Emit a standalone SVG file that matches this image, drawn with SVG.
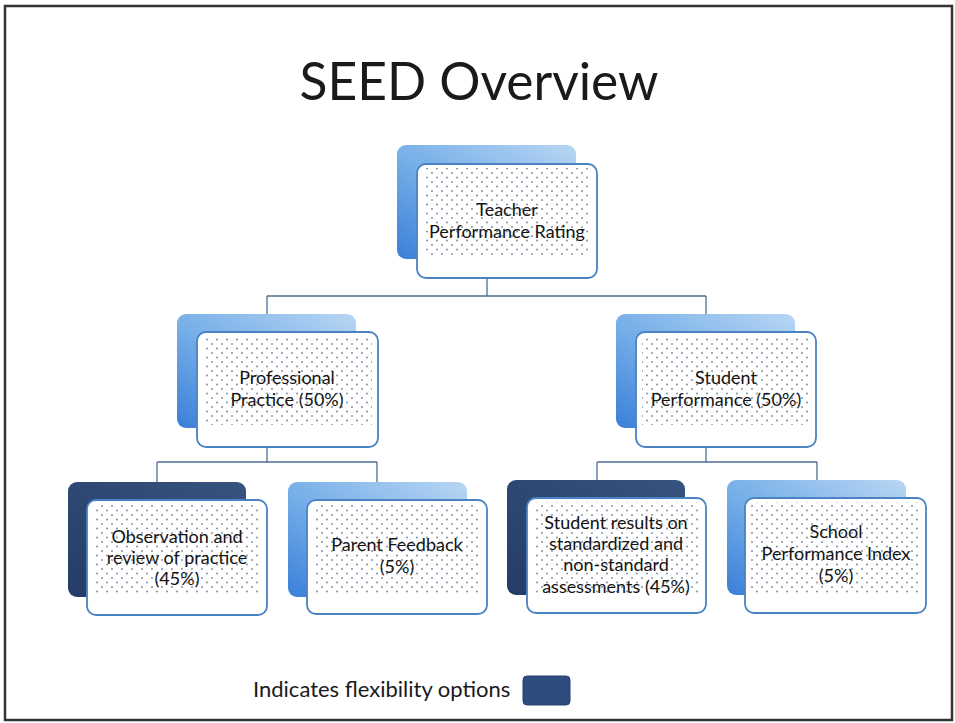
<svg xmlns="http://www.w3.org/2000/svg" width="955" height="723" viewBox="0 0 955 723">
<defs>
<linearGradient id="gBlue" x1="0" y1="1" x2="1" y2="0">
<stop offset="0" stop-color="#3a7fd8"/>
<stop offset="0.45" stop-color="#75aee8"/>
<stop offset="1" stop-color="#b8d6f3"/>
</linearGradient>
<linearGradient id="gNavy" x1="0" y1="1" x2="1" y2="0">
<stop offset="0" stop-color="#243d66"/>
<stop offset="1" stop-color="#36547f"/>
</linearGradient>
<pattern id="dots" width="10" height="9" patternUnits="userSpaceOnUse">
<circle cx="2" cy="2" r="0.95" fill="#7d8ba0"/>
<circle cx="7" cy="6.5" r="0.95" fill="#7d8ba0"/>
</pattern>
<style>
.back{fill:url(#gBlue);}
.backn{fill:url(#gNavy);}
.front{fill:#ffffff;stroke:#4a82c4;stroke-width:1.8;}
.dot{fill:url(#dots);}
.lbl{font-family:Lato,"Liberation Sans",sans-serif;font-size:18px;fill:#141414;text-anchor:middle;}
.conn{fill:none;stroke:#4f6f96;stroke-width:1.3;}
</style>
</defs>
<rect x="0" y="0" width="955" height="723" fill="#ffffff"/>
<rect x="5" y="6" width="947" height="714" fill="none" stroke="#333" stroke-width="2.5"/>
<text x="479" y="100" font-family="Lato,'Liberation Sans',sans-serif" font-size="51.5" fill="#1a1a1a" text-anchor="middle">SEED Overview</text>

<g id="connectors">
<path class="conn" d="M487 278 V296 M267 296 H706 M267 296 V332 M706 296 V332"/>
<path class="conn" d="M267 447 V462 M157 462 H377 M157 462 V500 M377 462 V500"/>
<path class="conn" d="M706 447 V462 M597 462 H817 M597 462 V498 M817 462 V498"/>
</g>

<g id="node-teacher">
<rect class="back" x="397" y="145" width="179" height="114" rx="9"/>
<rect class="front" x="417" y="164" width="180" height="114" rx="9"/>
<rect class="dot" x="423" y="168" width="168" height="88"/>
<text class="lbl" x="507" y="216">Teacher</text>
<text class="lbl" x="507" y="238">Performance Rating</text>
</g>

<g id="node-professional">
<rect class="back" x="177" y="314" width="179" height="114" rx="9"/>
<rect class="front" x="197" y="332" width="181" height="115" rx="9"/>
<rect class="dot" x="203" y="336" width="169" height="89"/>
<text class="lbl" x="287" y="384">Professional</text>
<text class="lbl" x="287" y="406">Practice (50%)</text>
</g>

<g id="node-student">
<rect class="back" x="616" y="314" width="179" height="114" rx="9"/>
<rect class="front" x="636" y="332" width="180" height="115" rx="9"/>
<rect class="dot" x="642" y="336" width="168" height="89"/>
<text class="lbl" x="726" y="384">Student</text>
<text class="lbl" x="726" y="406">Performance (50%)</text>
</g>

<g id="node-observation">
<rect class="backn" x="68" y="482" width="178" height="115" rx="9"/>
<rect class="front" x="87" y="500" width="180" height="115" rx="9"/>
<rect class="dot" x="93" y="504" width="168" height="90"/>
<text class="lbl" x="177" y="543">Observation and</text>
<text class="lbl" x="177" y="564">review of practice</text>
<text class="lbl" x="177" y="585">(45%)</text>
</g>

<g id="node-parent">
<rect class="back" x="288" y="482" width="179" height="115" rx="9"/>
<rect class="front" x="307" y="500" width="180" height="114" rx="9"/>
<rect class="dot" x="313" y="504" width="168" height="90"/>
<text class="lbl" x="397" y="551">Parent Feedback</text>
<text class="lbl" x="397" y="573">(5%)</text>
</g>

<g id="node-results">
<rect class="backn" x="507" y="480" width="178" height="115" rx="9"/>
<rect class="front" x="527" y="498" width="179" height="115" rx="9"/>
<rect class="dot" x="533" y="502" width="167" height="92"/>
<text class="lbl" x="616" y="529">Student results on</text>
<text class="lbl" x="616" y="550">standardized and</text>
<text class="lbl" x="616" y="571">non-standard</text>
<text class="lbl" x="616" y="593">assessments (45%)</text>
</g>

<g id="node-spi">
<rect class="back" x="727" y="480" width="179" height="115" rx="9"/>
<rect class="front" x="745" y="498" width="181" height="115" rx="9"/>
<rect class="dot" x="751" y="502" width="169" height="91"/>
<text class="lbl" x="836" y="538">School</text>
<text class="lbl" x="836" y="560">Performance Index</text>
<text class="lbl" x="836" y="582">(5%)</text>
</g>

<g id="legend">
<text x="253" y="697" font-family="Lato,'Liberation Sans',sans-serif" font-size="22" fill="#1a1a1a">Indicates flexibility options</text>
<rect x="523" y="676" width="47" height="29" rx="4" fill="#2f4c7e" stroke="#26406b" stroke-width="1"/>
</g>
</svg>
